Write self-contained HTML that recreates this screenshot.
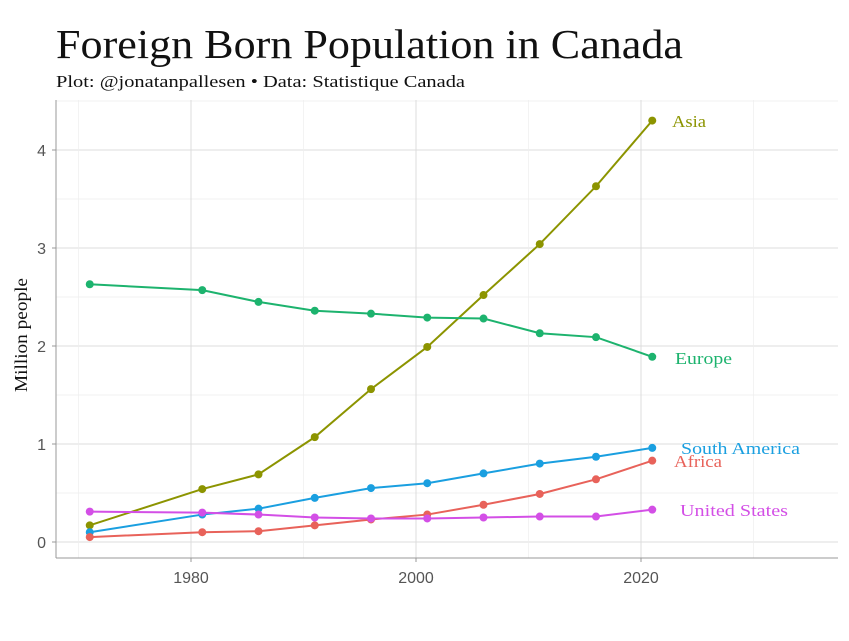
<!DOCTYPE html>
<html><head><meta charset="utf-8"><style>
body{margin:0;background:#fff;width:849px;height:636px;overflow:hidden}
</style></head><body>
<svg width="849" height="636" xmlns="http://www.w3.org/2000/svg">
<text x="56" y="58" font-family="Liberation Serif, serif" font-size="41" fill="#111" textLength="627" lengthAdjust="spacingAndGlyphs">Foreign Born Population in Canada</text>
<text x="56" y="87" font-family="Liberation Serif, serif" font-size="17" fill="#111" textLength="409" lengthAdjust="spacingAndGlyphs">Plot: @jonatanpallesen • Data: Statistique Canada</text>
<text transform="translate(27,335) rotate(-90)" text-anchor="middle" font-family="Liberation Serif, serif" font-size="18" fill="#111" textLength="114" lengthAdjust="spacingAndGlyphs">Million people</text>
<g id="grid"></g><g id="axes"></g><g id="series"></g>
</svg>
<script>
const years=[1971,1981,1986,1991,1996,2001,2006,2011,2016,2021];
const asia=[0.17,0.54,0.69,1.07,1.56,1.99,2.52,3.04,3.63,4.30];
const europe=[2.63,2.57,2.45,2.36,2.33,2.29,2.28,2.13,2.09,1.89];
const southAmerica=[0.10,0.28,0.34,0.45,0.55,0.60,0.70,0.80,0.87,0.96];
const africa=[0.05,0.10,0.11,0.17,0.23,0.28,0.38,0.49,0.64,0.83];
const unitedStates=[0.31,0.30,0.28,0.25,0.24,0.24,0.25,0.26,0.26,0.33];
const xTicks=[1980,2000,2020];
const yTicks=[0,1,2,3,4];
const NS="http://www.w3.org/2000/svg";
const X=y=>416+(y-2000)*11.25;
const Y=v=>542-v*98;
function mk(t,a,p){const e=document.createElementNS(NS,t);for(const k in a)e.setAttribute(k,a[k]);p.appendChild(e);return e;}
const g=document.getElementById('grid'),ax=document.getElementById('axes'),s=document.getElementById('series');
for(let v=-0.5;v<=4.5;v+=0.5){if(Y(v)<100||Y(v)>558)continue;const l=mk('line',{x1:56,x2:838,y1:Y(v),y2:Y(v),stroke:v%1===0?'#dcdcdc':'#eeeeee','stroke-width':v%1===0?1:0.7},g);
}
for(let yr=1970;yr<=2030;yr+=10){const l=mk('line',{x1:X(yr),x2:X(yr),y1:100,y2:558,stroke:yr%20===0?'#dcdcdc':'#eeeeee','stroke-width':yr%20===0?1:0.7},g);
}
const a1=mk('line',{x1:56,x2:56,y1:100,y2:558,stroke:'#999'},ax);
const a2=mk('line',{x1:56,x2:838,y1:558,y2:558,stroke:'#999'},ax);
yTicks.forEach(v=>{const t=mk('text',{x:46,y:Y(v)+6,'text-anchor':'end','font-family':'Liberation Sans, sans-serif','font-size':16,fill:'#555'},ax);t.textContent=v;

mk('line',{x1:52,x2:56,y1:Y(v),y2:Y(v),stroke:'#999'},ax);});
xTicks.forEach(v=>{const t=mk('text',{x:X(v),y:583,'text-anchor':'middle','font-family':'Liberation Sans, sans-serif','font-size':16,fill:'#555'},ax);t.textContent=v;

mk('line',{x1:X(v),x2:X(v),y1:558,y2:562,stroke:'#999'},ax);});
const series=[['Asia',asia,'#8c9400',672,127,34],['Europe',europe,'#1db36e',675,364,57],['South America',southAmerica,'#1a9fe0',681,454,119],['Africa',africa,'#e8625a',674,467,48],['United States',unitedStates,'#d34fe6',680,516,108]];
series.forEach(([name,vals,c,lx,ly,tw])=>{
const key=name.toLowerCase().replace(' ','-');
const p=mk('polyline',{points:years.map((y,i)=>X(y)+','+Y(vals[i])).join(' '),fill:'none',stroke:c,'stroke-width':2},s);

years.forEach((y,i)=>{const d=mk('circle',{cx:X(y),cy:Y(vals[i]),r:4,fill:c},s);
});
const t=mk('text',{x:lx,y:ly,'font-family':'Liberation Serif, serif','font-size':17,fill:c,textLength:tw,lengthAdjust:'spacingAndGlyphs'},s);t.textContent=name;

});
</script>
</body></html>
